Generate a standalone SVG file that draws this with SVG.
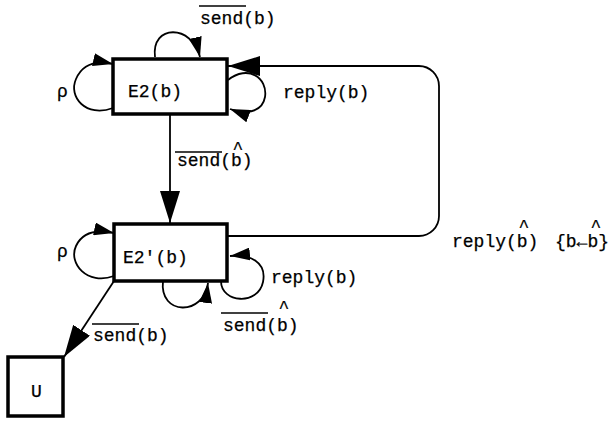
<svg xmlns="http://www.w3.org/2000/svg" width="612" height="421" viewBox="0 0 612 421">
  <style>
    .box { fill: #ffffff; stroke: #000000; stroke-width: 3.5; }
    .edge { fill: none; stroke: #000000; stroke-width: 1.8; }
    .bar { stroke: #000000; stroke-width: 1.6; }
    text { font-family: "Liberation Mono", "DejaVu Sans Mono", monospace; font-size: 18px; fill: #000000; stroke: #000000; stroke-width: 0.25; }
    .hat { stroke-width: 0.2; }
  </style>
  <defs>
    <marker id="big" markerUnits="userSpaceOnUse" markerWidth="32" markerHeight="20" refX="32" refY="10" orient="auto">
      <path d="M0,0 L32,10 L0,20 Z" fill="#000000"/>
    </marker>
    <marker id="small" markerUnits="userSpaceOnUse" markerWidth="20" markerHeight="13" refX="20" refY="6.5" orient="auto">
      <path d="M0,0 L20,6.5 L0,13 Z" fill="#000000"/>
    </marker>
  </defs>

  <!-- transitions -->
  <g id="connectors">
    <!-- E2 self loops -->
    <path class="edge" d="M113,108 C86,118 68,97 76,79 C82,65 95,60 113,64" marker-end="url(#small)"/>
    <path class="edge" d="M155,57 C151,24 192,24 200,57" marker-end="url(#small)"/>
    <path class="edge" d="M228,80 C248,64 268,78 265,97 C262,114 243,114 230,109" marker-end="url(#small)"/>
    <!-- E2 -> E2' -->
    <path class="edge" d="M170,114 V223" marker-end="url(#big)"/>
    <!-- E2' -> E2 (long way round) -->
    <path class="edge" d="M228,236 H419 A20,20 0 0 0 439,216 V86 A20,20 0 0 0 419,66 H228" marker-end="url(#big)"/>
    <!-- E2' self loops -->
    <path class="edge" d="M114,276 C87,286 68,263 76,246 C82,233 95,229 114,233" marker-end="url(#small)"/>
    <path class="edge" d="M163,281 C159,316 204,316 208,283" marker-end="url(#small)"/>
    <path class="edge" d="M221,281 C221,303 258,306 263,282 C267,262 250,254 230,256" marker-end="url(#small)"/>
    <!-- E2' -> U -->
    <path class="edge" d="M114,281 L64,357" marker-end="url(#big)"/>
  </g>

  <g id="E2">
    <rect class="box" x="113" y="59" width="114" height="55"/>
    <text x="128" y="97">E2(b)</text>
  </g>

  <g id="E2p">
    <rect class="box" x="114" y="224" width="113" height="57"/>
    <text x="123" y="263">E2'(b)</text>
  </g>

  <g id="U">
    <rect class="box" x="8" y="357" width="55" height="59"/>
    <text x="31" y="397">U</text>
  </g>

  <!-- transition labels -->
  <g id="labels">
    <text x="57" y="97">ρ</text>
    <text x="57" y="257">ρ</text>

    <line class="bar" x1="199" y1="6" x2="246" y2="6"/>
    <text x="200" y="24">send(b)</text>

    <text x="283" y="98">reply(b)</text>

    <line class="bar" x1="175" y1="152" x2="222" y2="152"/>
    <text x="177" y="166">send(b)</text>
    <text class="hat" x="238" y="154" text-anchor="middle">^</text>

    <text x="271" y="283">reply(b)</text>

    <line class="bar" x1="221" y1="313" x2="268" y2="313"/>
    <text x="223" y="331">send(b)</text>
    <text class="hat" x="284" y="313" text-anchor="middle">^</text>

    <line class="bar" x1="92" y1="324" x2="139" y2="324"/>
    <text x="93" y="341">send(b)</text>

    <text x="452" y="247">reply(b)</text>
    <text class="hat" x="524" y="232" text-anchor="middle">^</text>
    <text x="555" y="247">{b←b}</text>
    <text class="hat" x="596" y="232" text-anchor="middle">^</text>
  </g>
</svg>
